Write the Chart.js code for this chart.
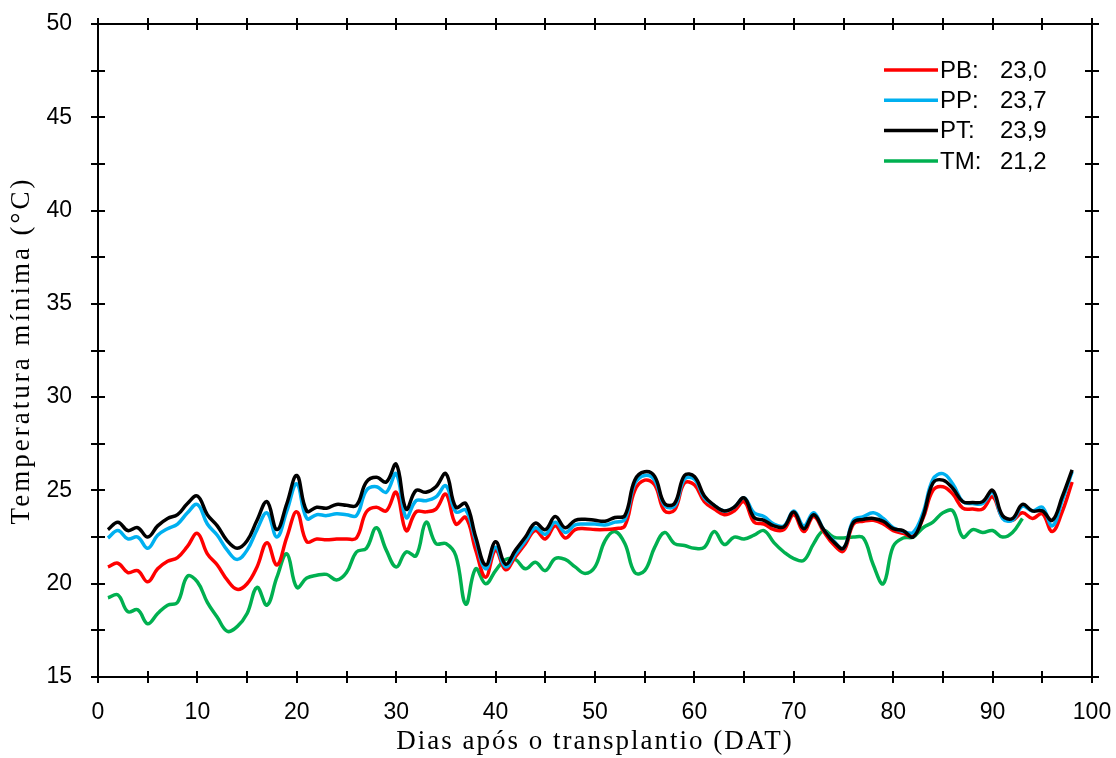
<!DOCTYPE html>
<html>
<head>
<meta charset="utf-8">
<script src="https://cdn.jsdelivr.net/npm/chart.js@4.4.1/dist/chart.umd.min.js"></script>
<style>
  html, body { margin: 0; padding: 0; background: #fff; }
  canvas { display: block; }
</style>
</head>
<body>
<canvas id="chart" width="1116" height="758"></canvas>
<script>
// Days after transplant (DAT)
const days = [1, 2, 3, 4, 5, 6, 7, 8, 9, 10, 11, 12, 13, 14, 15, 16, 17, 18, 19, 20,
    21, 22, 23, 24, 25, 26, 27, 28, 29, 30, 31, 32, 33, 34, 35, 36, 37, 38, 39, 40,
    41, 42, 43, 44, 45, 46, 47, 48, 49, 50, 51, 52, 53, 54, 55, 56, 57, 58, 59, 60,
    61, 62, 63, 64, 65, 66, 67, 68, 69, 70, 71, 72, 73, 74, 75, 76, 77, 78, 79, 80,
    81, 82, 83, 84, 85, 86, 87, 88, 89, 90, 91, 92, 93, 94, 95, 96, 97, 98];

// minimum temperature (°C)
const pb = [20.9, 21.1, 20.6, 20.7, 20.1, 20.8, 21.2, 21.4, 22.0, 22.7,
    21.6, 21.0, 20.2, 19.7, 20.0, 20.9, 22.2, 21.0, 22.5, 23.85,
    22.25, 22.4, 22.35, 22.4, 22.4, 22.45, 23.85, 24.1, 23.9, 24.9,
    22.85, 23.85, 23.85, 24.0, 24.8, 23.2, 23.55, 21.8, 20.35, 21.8,
    20.75, 21.45, 22.15, 22.85, 22.4, 23.1, 22.45, 22.9, 22.95, 22.9,
    22.9, 22.95, 23.1, 25.0, 25.55, 25.3, 23.9, 23.95, 25.4, 25.3,
    24.4, 24.0, 23.7, 23.9, 24.4, 23.3, 23.2, 22.9, 22.9, 23.7,
    22.8, 23.6, 22.8, 22.1, 21.75, 23.2, 23.35, 23.4, 23.2, 22.85,
    22.7, 22.55, 23.5, 25.0, 25.2, 24.8, 24.05, 24.0, 24.0, 24.65,
    23.55, 23.4, 23.8, 23.5, 23.75, 22.8, 23.85, 25.45];

const pp = [22.45, 22.85, 22.4, 22.5, 21.9, 22.6, 22.95, 23.2, 23.8, 24.25,
    23.2, 22.6, 21.8, 21.3, 21.8, 22.9, 23.8, 22.5, 23.9, 25.35,
    23.5, 23.7, 23.65, 23.75, 23.7, 23.65, 25.0, 25.2, 24.9, 25.9,
    23.55, 24.45, 24.45, 24.65, 25.25, 23.85, 23.95, 22.3, 20.8, 21.95,
    20.9, 21.6, 22.3, 23.0, 22.65, 23.3, 22.75, 23.15, 23.2, 23.2,
    23.15, 23.3, 23.45, 25.35, 25.8, 25.55, 24.2, 24.15, 25.6, 25.6,
    24.6, 24.2, 23.9, 24.1, 24.6, 23.8, 23.6, 23.2, 23.1, 23.9,
    23.1, 23.8, 22.9, 22.3, 21.9, 23.4, 23.6, 23.8, 23.5, 23.0,
    22.8, 22.75, 23.8, 25.6, 25.9, 25.35, 24.4, 24.3, 24.3, 24.9,
    23.5, 23.4, 24.15, 23.9, 24.1, 23.1, 24.45, 26.0];

const pt = [22.9, 23.3, 22.85, 23.0, 22.5, 23.1, 23.5, 23.7, 24.3, 24.7,
    23.7, 23.1, 22.3, 21.9, 22.3, 23.4, 24.4, 22.9, 24.3, 25.8,
    23.9, 24.1, 24.05, 24.25, 24.2, 24.2, 25.45, 25.7, 25.45, 26.4,
    24.0, 25.0, 24.9, 25.2, 25.9, 24.1, 24.3, 22.5, 21.0, 22.25,
    21.05, 21.8, 22.5, 23.25, 22.9, 23.6, 23.0, 23.4, 23.45, 23.4,
    23.35, 23.55, 23.65, 25.55, 26.0, 25.75, 24.3, 24.3, 25.8, 25.75,
    24.7, 24.2, 23.9, 24.1, 24.6, 23.55, 23.4, 23.1, 23.05, 23.85,
    22.95, 23.7, 22.9, 22.25, 21.9, 23.3, 23.45, 23.5, 23.35, 22.95,
    22.85, 22.5, 23.6, 25.4, 25.55, 25.1, 24.4, 24.35, 24.4, 25.0,
    23.65, 23.5, 24.25, 23.9, 23.9, 23.4, 24.65, 26.1];

// outside temperature, ends at day 93
const tm = [19.25, 19.4, 18.5, 18.6, 17.85, 18.4, 18.85, 19.0, 20.4, 20.1,
    19.0, 18.2, 17.45, 17.7, 18.4, 19.8, 18.85, 20.35, 21.6, 19.8,
    20.3, 20.45, 20.5, 20.2, 20.6, 21.7, 21.9, 23.0, 21.8, 20.9,
    21.7, 21.5, 23.3, 22.15, 22.15, 21.5, 18.9, 20.8, 20.0, 20.7,
    21.3, 21.3, 20.8, 21.15, 20.7, 21.35, 21.3, 20.9, 20.55, 20.9,
    22.3, 22.8, 22.15, 20.6, 20.7, 21.95, 22.75, 22.15, 22.05, 21.9,
    21.95, 22.8, 22.1, 22.5, 22.4, 22.6, 22.85, 22.2, 21.7, 21.35,
    21.25, 22.15, 22.85, 22.5, 22.45, 22.5, 22.45, 21.0, 20.0, 22.0,
    22.45, 22.5, 23.0, 23.3, 23.8, 23.9, 22.5, 22.9, 22.75, 22.85,
    22.5, 22.75, 23.5];

const seriesNames = ['PB:', 'PP:', 'PT:', 'TM:'];
const seriesMeans = ['23,0', '23,7', '23,9', '21,2'];
const seriesColors = ['#ff0000', '#00b0f0', '#000000', '#00b050'];

const xTitle = 'Dias após o transplantio (DAT)';
const yTitle = 'Temperatura mínima (°C)';

function toPoints(values) {
    return values.map((v, i) => ({ x: days[i], y: v }));
}

const sans = 'Liberation Sans, Arial, sans-serif';
const serif = 'Liberation Serif, Times New Roman, serif';

// frame with ticks crossing every side
const framePlugin = {
    id: 'frame',
    afterDraw(chart) {
        const ctx = chart.ctx;
        const { left, right, top, bottom } = chart.chartArea;
        const xs = chart.scales.x;
        const ys = chart.scales.y;
        ctx.save();
        ctx.strokeStyle = '#000';
        ctx.lineWidth = 2;
        ctx.strokeRect(left, top, right - left, bottom - top);
        ctx.beginPath();
        for (let v = 15; v <= 50; v += 2.5) {
            const py = Math.round(ys.getPixelForValue(v));
            ctx.moveTo(left - 7, py); ctx.lineTo(left + 7, py);
            ctx.moveTo(right - 7, py); ctx.lineTo(right + 7, py);
        }
        for (let v = 0; v <= 100; v += 5) {
            const px = Math.round(xs.getPixelForValue(v));
            ctx.moveTo(px, bottom - 6); ctx.lineTo(px, bottom + 6);
            ctx.moveTo(px, top - 6); ctx.lineTo(px, top + 6);
        }
        ctx.stroke();

        // axis titles, a bit spaced out like the original
        ctx.fillStyle = '#000';
        ctx.font = '27px ' + serif;
        ctx.textAlign = 'center';
        ctx.textBaseline = 'middle';
        ctx.letterSpacing = '2px';
        ctx.fillText(xTitle, (left + right) / 2, 742);
        ctx.translate(22, (top + bottom) / 2);
        ctx.rotate(-Math.PI / 2);
        ctx.letterSpacing = '3px';
        ctx.fillText(yTitle, 0, 0);
        ctx.restore();
    }
};

// legend inside the plot, top right
const legendPlugin = {
    id: 'insideLegend',
    afterDraw(chart) {
        const ctx = chart.ctx;
        const area = chart.chartArea;
        const x0 = area.right - 208;
        ctx.save();
        ctx.font = '24px ' + sans;
        ctx.textBaseline = 'middle';
        ctx.fillStyle = '#000';
        chart.data.datasets.forEach((ds, i) => {
            const y = area.top + 46 + i * 30.3;
            ctx.strokeStyle = ds.borderColor;
            ctx.lineWidth = 3.5;
            ctx.beginPath();
            ctx.moveTo(x0, y);
            ctx.lineTo(x0 + 54, y);
            ctx.stroke();
            ctx.fillText(seriesNames[i], x0 + 56, y + 1);
            ctx.fillText(seriesMeans[i], x0 + 116, y + 1);
        });
        ctx.restore();
    }
};

const lineStyle = { pointRadius: 0, borderWidth: 3.5, tension: 0.4, fill: false };

new Chart(document.getElementById('chart'), {
    type: 'line',
    data: {
        datasets: [
            { label: 'PB', data: toPoints(pb), borderColor: seriesColors[0], order: 2, ...lineStyle },
            { label: 'PP', data: toPoints(pp), borderColor: seriesColors[1], order: 1, ...lineStyle },
            { label: 'PT', data: toPoints(pt), borderColor: seriesColors[2], order: 0, ...lineStyle },
            { label: 'TM', data: toPoints(tm), borderColor: seriesColors[3], order: 3, ...lineStyle }
        ]
    },
    options: {
        responsive: false,
        animation: false,
        devicePixelRatio: 1,
        layout: { padding: { left: 0, right: 24, top: 24, bottom: 0 } },
        plugins: {
            legend: { display: false },
            tooltip: { enabled: false }
        },
        scales: {
            x: {
                type: 'linear',
                min: 0,
                max: 100,
                afterFit(scale) {
                    scale.height = 81;
                    scale.paddingLeft = 0;
                    scale.paddingRight = 0;
                },
                grid: { display: false, drawTicks: false },
                border: { display: false },
                ticks: {
                    stepSize: 5,
                    autoSkip: false,
                    maxRotation: 0,
                    padding: 22,
                    color: '#000',
                    font: { family: sans, size: 23 },
                    callback: v => (v % 10 === 0 ? String(v) : '')
                }
            },
            y: {
                min: 15,
                max: 50,
                afterFit(scale) {
                    scale.width = 98;
                    scale.paddingTop = 0;
                    scale.paddingBottom = 0;
                },
                grid: { display: false, drawTicks: false },
                border: { display: false },
                ticks: {
                    stepSize: 2.5,
                    autoSkip: false,
                    padding: 26,
                    color: '#000',
                    font: { family: sans, size: 23 },
                    callback: v => (v % 5 === 0 ? String(v) : '')
                }
            }
        }
    },
    plugins: [framePlugin, legendPlugin]
});
</script>
</body>
</html>
